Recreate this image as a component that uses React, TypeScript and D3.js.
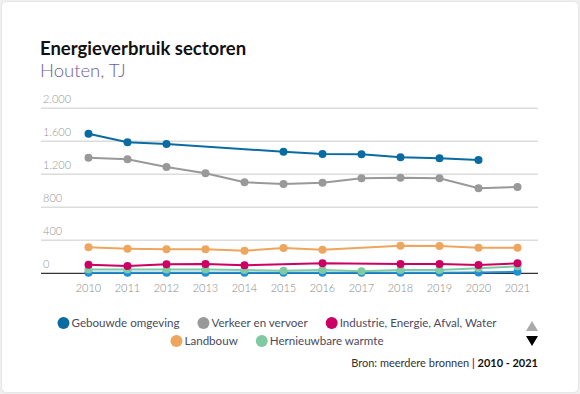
import React, { useEffect, useRef } from 'react';
import * as d3 from 'd3';

const years = [2010, 2011, 2012, 2013, 2014, 2015, 2016, 2017, 2018, 2019, 2020, 2021];

const gebouwde = [1692, 1588, 1567, null, null, 1474, 1446, 1442, 1406, 1394, 1373, null];
const verkeer = [1401, 1382, 1288, 1212, 1103, 1082, 1098, 1151, 1159, 1151, 1030, 1046];
const industrie = [105, 89, 109, 113, 97, null, 121, null, 113, 113, 101, 121];
const landbouw = [315, 298, 291, 291, 274, 307, 286, null, 335, 331, 311, 311];
const hernieuwbaar = [45, 45, 45, 45, 40, 30, 40, 25, 40, 40, 60, 85];
const overig = [6, 6, 6, 6, 6, 6, 6, 6, 8, 8, 10, 18];

const yTicks = [0, 400, 800, 1200, 1600, 2000];

const series = [
  { name: 'Overig', values: overig, color: '#1f8fd6' },
  { name: 'Hernieuwbare warmte', values: hernieuwbaar, color: '#7fcaa3' },
  { name: 'Industrie, Energie, Afval, Water', values: industrie, color: '#cc0063' },
  { name: 'Landbouw', values: landbouw, color: '#eea55e' },
  { name: 'Verkeer en vervoer', values: verkeer, color: '#999999' },
  { name: 'Gebouwde omgeving', values: gebouwde, color: '#0a6ba3' },
];

const legendRows = [
  ['Gebouwde omgeving', 'Verkeer en vervoer', 'Industrie, Energie, Afval, Water'],
  ['Landbouw', 'Hernieuwbare warmte'],
];

const W = 580;
const H = 394;
const FONT = 'Lato, "Open Sans", sans-serif';

const App = () => {
  const svgRef = useRef<SVGSVGElement>(null);

  useEffect(() => {
    const svg = d3.select(svgRef.current);
    svg.selectAll('*').remove();

    // card
    svg.append('rect').attr('width', W).attr('height', H).attr('fill', '#efefef');
    svg.append('rect')
      .attr('x', 1.5).attr('y', 1.5).attr('width', W - 3).attr('height', H - 3)
      .attr('rx', 5).attr('fill', '#fff').attr('stroke', '#e6e6e6');

    svg.append('text')
      .attr('x', 40).attr('y', 55)
      .attr('font-family', FONT).attr('font-size', 18.5).attr('font-weight', 700)
      .attr('fill', '#111')
      .text('Energieverbruik sectoren');
    svg.append('text')
      .attr('x', 40).attr('y', 77)
      .attr('font-family', FONT).attr('font-size', 18.5).attr('font-weight', 300)
      .attr('fill', '#6e5d98')
      .text('Houten, TJ');

    const x = d3.scalePoint<number>().domain(years).range([88.5, 517.5]);
    const y = d3.scaleLinear().domain([0, 2000]).range([273.3, 108.3]);
    const fmt = d3.formatLocale({ decimal: ',', thousands: '.', grouping: [3], currency: ['€', ''] }).format(',');

    // grid
    const grid = svg.append('g');
    yTicks.forEach(t => {
      grid.append('line')
        .attr('x1', 41).attr('x2', 538)
        .attr('y1', y(t)).attr('y2', y(t))
        .attr('stroke', t === 0 ? '#333' : '#dcdcdc')
        .attr('stroke-width', t === 0 ? 1.2 : 1.5);
      grid.append('text')
        .attr('x', 43).attr('y', y(t) - 5)
        .attr('font-family', FONT).attr('font-size', 11).attr('font-weight', 300)
        .attr('fill', '#999')
        .text(fmt(t));
    });

    years.forEach(yr => {
      svg.append('text')
        .attr('x', x(yr)!).attr('y', 292)
        .attr('text-anchor', 'middle')
        .attr('font-family', FONT).attr('font-size', 11).attr('font-weight', 300)
        .attr('fill', '#888')
        .text(yr);
    });

    // lines
    series.forEach(s => {
      const pts = years
        .map((yr, i) => ({ yr, v: s.values[i] }))
        .filter(d => d.v !== null) as { yr: number; v: number }[];
      const line = d3.line<{ yr: number; v: number }>()
        .x(d => x(d.yr)!)
        .y(d => y(d.v));
      svg.append('path')
        .datum(pts)
        .attr('d', line)
        .attr('fill', 'none')
        .attr('stroke', s.color)
        .attr('stroke-width', 2);
      svg.append('g').selectAll('circle')
        .data(pts)
        .enter()
        .append('circle')
        .attr('cx', d => x(d.yr)!)
        .attr('cy', d => y(d.v))
        .attr('r', 4)
        .attr('fill', s.color);
    });

    // legend
    const colorOf = (n: string) => series.find(s => s.name === n)!.color;
    const legend = svg.append('g').attr('font-family', FONT).attr('font-size', 11.6);
    legendRows.forEach((row, ri) => {
      const g = legend.append('g');
      let cx = 0;
      row.forEach(name => {
        g.append('circle').attr('cx', cx + 6).attr('cy', 0).attr('r', 6).attr('fill', colorOf(name));
        const t = g.append('text')
          .attr('x', cx + 14).attr('y', 4.2)
          .attr('fill', '#4b4b5e')
          .text(name);
        const w = (t.node() as SVGTextElement).getComputedTextLength();
        cx += 14 + w + 18;
      });
      const total = cx - 18;
      g.attr('transform', `translate(${277 - total / 2}, ${323 + ri * 18})`);
    });

    // arrows
    svg.append('path').attr('d', 'M526,331 L532,321 L538,331 Z').attr('fill', '#aaa');
    svg.append('path').attr('d', 'M526,336 L532,346 L538,336 Z').attr('fill', '#000');

    const src = svg.append('text')
      .attr('x', 538).attr('y', 367)
      .attr('text-anchor', 'end')
      .attr('font-family', FONT).attr('font-size', 11)
      .attr('fill', '#333');
    src.append('tspan').text('Bron: meerdere bronnen ');
    src.append('tspan').attr('fill', '#cc0063').attr('font-weight', 700).text('|');
    src.append('tspan').attr('font-weight', 700).attr('fill', '#111').text(' 2010 - 2021');
  }, []);

  return (
    <div>
      <style>{'body{margin:0}'}</style>
      <svg ref={svgRef} width={W} height={H} style={{ display: 'block' }} />
    </div>
  );
};

export default App;
